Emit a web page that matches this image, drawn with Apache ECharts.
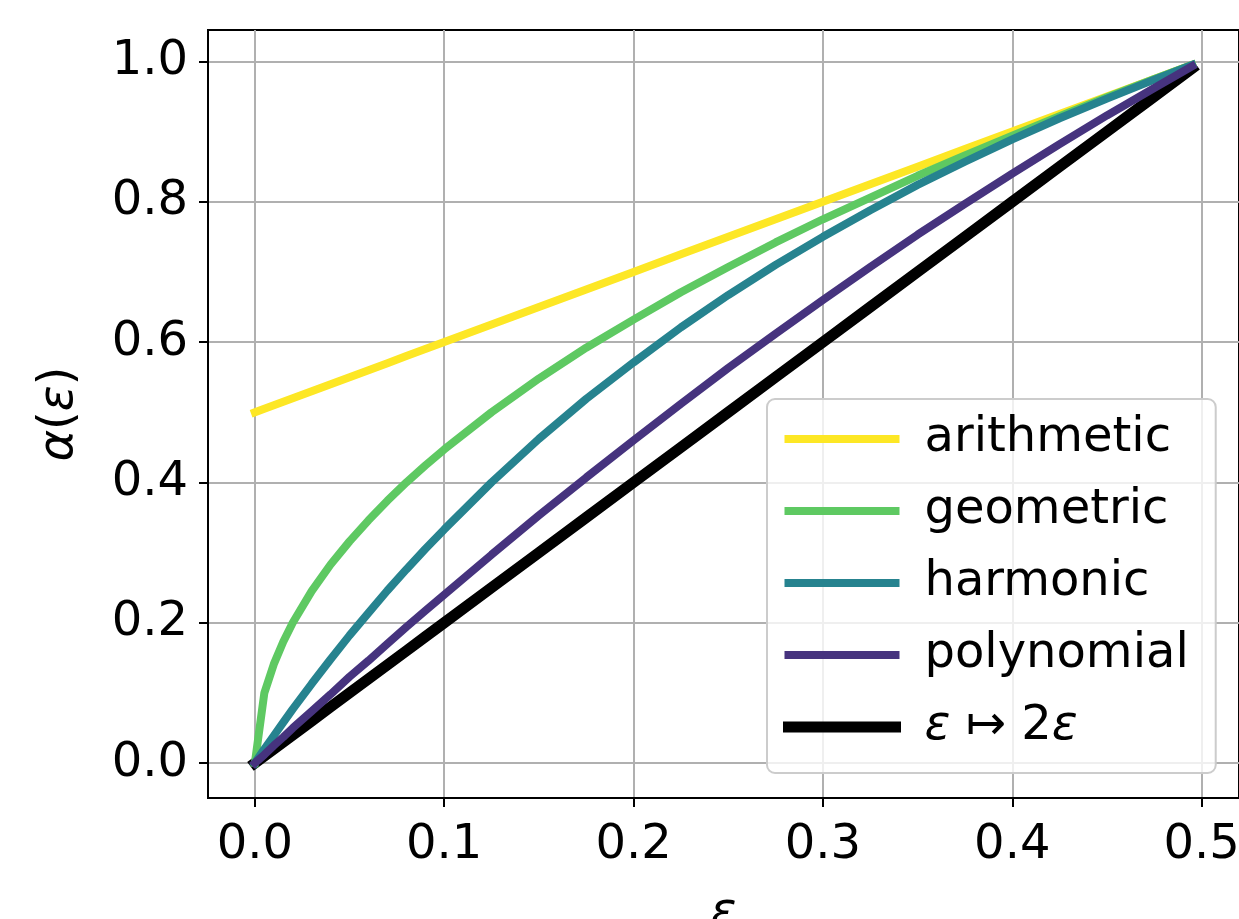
<!DOCTYPE html>
<html>
<head>
<meta charset="utf-8">
<script src="https://cdn.jsdelivr.net/npm/echarts@6/dist/echarts.min.js"></script>
<style>
html, body { margin: 0; padding: 0; background: #fff; }
#chart { width: 1239px; height: 919px; }
</style>
</head>
<body>
<div id="chart"></div>
<script>
// epsilon samples (x) and alpha(eps)
const eps = [0, 0.005, 0.01, 0.015, 0.02, 0.03, 0.04, 0.05, 0.06, 0.07, 0.08, 0.09, 0.1, 0.125, 0.15, 0.175, 0.2, 0.225, 0.25, 0.275, 0.3, 0.325, 0.35, 0.375, 0.4, 0.425, 0.45, 0.475, 0.495];
const arithmetic = [0.5, 0.505, 0.51, 0.515, 0.52, 0.53, 0.54, 0.55, 0.56, 0.57, 0.58, 0.59, 0.6, 0.625, 0.65, 0.675, 0.7, 0.725, 0.75, 0.775, 0.8, 0.825, 0.85, 0.875, 0.9, 0.925, 0.95, 0.975, 0.995];
const geometric = [0, 0.1, 0.141, 0.173, 0.2, 0.245, 0.283, 0.316, 0.346, 0.374, 0.4, 0.424, 0.447, 0.5, 0.548, 0.592, 0.632, 0.671, 0.707, 0.742, 0.775, 0.806, 0.837, 0.866, 0.894, 0.922, 0.949, 0.975, 0.995];
const harmonic = [0, 0.02, 0.039, 0.058, 0.077, 0.113, 0.148, 0.182, 0.214, 0.246, 0.276, 0.305, 0.333, 0.4, 0.462, 0.519, 0.571, 0.621, 0.667, 0.71, 0.75, 0.788, 0.824, 0.857, 0.889, 0.919, 0.947, 0.974, 0.995];
const polynomial = [0, 0.012, 0.025, 0.037, 0.05, 0.074, 0.098, 0.123, 0.146, 0.17, 0.194, 0.217, 0.24, 0.297, 0.353, 0.407, 0.46, 0.512, 0.563, 0.612, 0.66, 0.707, 0.753, 0.797, 0.84, 0.882, 0.923, 0.962, 0.993];
const doubled = [0, 0.01, 0.02, 0.03, 0.04, 0.06, 0.08, 0.1, 0.12, 0.14, 0.16, 0.18, 0.2, 0.25, 0.3, 0.35, 0.4, 0.45, 0.5, 0.55, 0.6, 0.65, 0.7, 0.75, 0.8, 0.85, 0.9, 0.95, 0.99];

const xTicks = [0, 0.1, 0.2, 0.3, 0.4, 0.5];
const yTicks = [0, 0.2, 0.4, 0.6, 0.8, 1.0];
const DOUBLE_NAME = 'ε ↦ 2ε';
const FONT = 'DejaVu Sans';

function pairs(ys) {
    return eps.map((x, i) => [x, ys[i]]);
}

function lineSeries(name, ys, color, width) {
    return {
        name: name,
        type: 'line',
        data: pairs(ys),
        symbol: 'none',
        showSymbol: false,
        color: color,
        lineStyle: { width: width, color: color, cap: 'square' },
        animation: false
    };
}

const chart = echarts.init(document.getElementById('chart'));
chart.setOption({
    backgroundColor: '#fff',
    animation: false,
    grid: {
        left: 208, top: 30, width: 1031, height: 768,
        outerBoundsMode: 'none',
        containLabel: false,
        show: true, borderColor: '#000', borderWidth: 2, backgroundColor: 'transparent'
    },
    legend: {
        orient: 'vertical',
        left: 767, top: 399,
        padding: [16, 27, 22, 16],
        itemWidth: 107, itemHeight: 48, itemGap: 24,
        backgroundColor: 'rgba(255,255,255,0.8)',
        borderColor: '#cccccc', borderWidth: 2, borderRadius: 8,
        itemStyle: { opacity: 0 },
        lineStyle: { width: 8 },
        textStyle: {
            fontFamily: FONT, fontSize: 48, color: '#000', padding: [0, 0, 0, 24],
            rich: { i: { fontFamily: FONT, fontSize: 48, fontStyle: 'italic', color: '#000' } }
        },
        formatter: function (name) {
            return name === DOUBLE_NAME ? '{i|ε} ↦ 2{i|ε}' : name;
        },
        data: [
            { name: 'arithmetic' },
            { name: 'geometric' },
            { name: 'harmonic' },
            { name: 'polynomial' },
            { name: DOUBLE_NAME, lineStyle: { width: 11 } }
        ]
    },
    xAxis: {
        type: 'value',
        min: -0.02475, max: 0.51975,
        name: 'ε',
        nameLocation: 'middle',
        nameGap: 92,
        nameTextStyle: { fontFamily: FONT, fontSize: 48, fontStyle: 'italic', color: '#000' },
        axisLine: { show: true, onZero: false, lineStyle: { color: '#000', width: 2 } },
        axisTick: { show: true, length: 9, customValues: xTicks, lineStyle: { color: '#000', width: 2 } },
        axisLabel: {
            customValues: xTicks, margin: 24,
            fontFamily: FONT, fontSize: 48, color: '#000',
            formatter: v => v.toFixed(1)
        },
        splitLine: { show: true, lineStyle: { color: '#b0b0b0', width: 2 } }
    },
    yAxis: {
        type: 'value',
        min: -0.04975, max: 1.04475,
        name: '{i|α}({i|ε})',
        nameLocation: 'middle',
        nameRotate: 90,
        nameGap: 124,
        nameTextStyle: {
            fontFamily: FONT, fontSize: 48, color: '#000',
            rich: { i: { fontFamily: FONT, fontSize: 48, fontStyle: 'italic', color: '#000' } }
        },
        axisLine: { show: true, onZero: false, lineStyle: { color: '#000', width: 2 } },
        axisTick: { show: true, length: 9, customValues: yTicks, lineStyle: { color: '#000', width: 2 } },
        axisLabel: {
            customValues: yTicks, margin: 20,
            fontFamily: FONT, fontSize: 48, color: '#000',
            formatter: v => v.toFixed(1)
        },
        splitLine: { show: true, lineStyle: { color: '#b0b0b0', width: 2 } }
    },
    series: [
        lineSeries(DOUBLE_NAME, doubled, '#000000', 11),
        lineSeries('arithmetic', arithmetic, '#fde725', 8),
        lineSeries('geometric', geometric, '#5ec962', 8),
        lineSeries('harmonic', harmonic, '#26838f', 8),
        lineSeries('polynomial', polynomial, '#46337e', 8)
    ]
});
</script>
</body>
</html>
